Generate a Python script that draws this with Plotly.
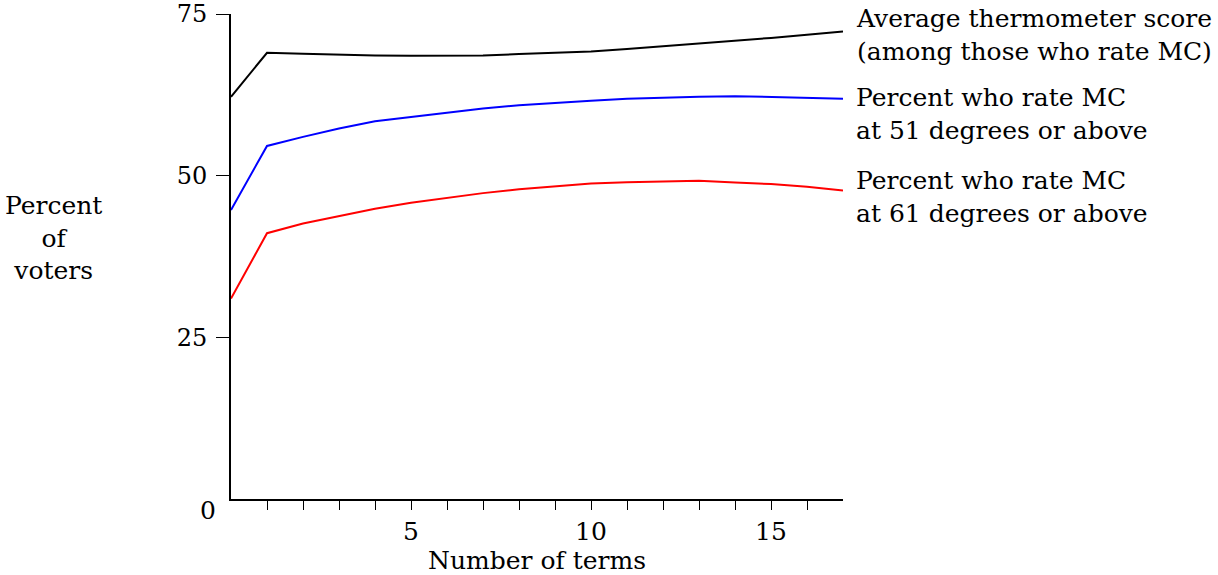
import plotly.graph_objects as go

terms = list(range(0, 18))
avg_score = [62.2, 69.0, 68.85, 68.7, 68.6, 68.55, 68.55, 68.6, 68.8, 69.0,
             69.2, 69.6, 70.0, 70.4, 70.9, 71.3, 71.8, 72.3]
pct_51 = [44.7, 54.6, 56.0, 57.3, 58.4, 59.1, 59.8, 60.4, 60.9, 61.3,
          61.6, 61.9, 62.1, 62.2, 62.3, 62.2, 62.1, 61.9]
pct_61 = [31.0, 41.1, 42.6, 43.8, 44.9, 45.8, 46.6, 47.3, 47.9, 48.4,
          48.8, 49.0, 49.15, 49.2, 48.95, 48.7, 48.3, 47.7]

labels = ["Average thermometer score<br>(among those who rate MC)",
          "Percent who rate MC<br>at 51 degrees or above",
          "Percent who rate MC<br>at 61 degrees or above"]
label_y = [71.7, 59.5, 46.7]

x_tickvals = list(range(1, 17))
x_ticktext = [str(v) if v % 5 == 0 else "" for v in x_tickvals]
y_tickvals = [25, 50, 75]

FONT = "DejaVu Serif"
FS = 25

fig = go.Figure()
for ys, col in [(avg_score, "#000000"), (pct_51, "#0000ff"), (pct_61, "#ff0000")]:
    fig.add_trace(go.Scatter(x=terms, y=ys, mode="lines",
                             line=dict(color=col, width=2), showlegend=False,
                             cliponaxis=False))

for txt, yv in zip(labels, label_y):
    fig.add_annotation(text=txt, xref="paper", x=1, xanchor="left", xshift=11,
                       yref="y", y=yv, yanchor="middle", showarrow=False,
                       align="left", font=dict(size=FS, color="black", family=FONT))

fig.add_annotation(text="Percent<br>of<br>voters", xref="paper", x=-0.29,
                   xanchor="center", yref="y", y=40.3, yanchor="middle",
                   showarrow=False, align="center",
                   font=dict(size=FS, color="black", family=FONT))
fig.add_annotation(text="0", xref="x", x=0, xanchor="right", xshift=-13,
                   yref="y", y=0, yanchor="middle", yshift=-11, showarrow=False,
                   font=dict(size=FS, color="black", family=FONT))

fig.update_layout(
    width=1218, height=575,
    margin=dict(l=231, r=375, t=14, b=76),
    paper_bgcolor="white", plot_bgcolor="white",
    font=dict(family=FONT, size=FS, color="black"),
    xaxis=dict(range=[0, 17], tickvals=x_tickvals, ticktext=x_ticktext,
               ticks="outside", ticklen=9, tickwidth=1, tickcolor="black",
               showline=True, linecolor="black", linewidth=2, automargin=False,
               showgrid=False, zeroline=False,
               title=dict(text="Number of terms", standoff=9,
                          font=dict(size=FS, family=FONT))),
    yaxis=dict(range=[0, 75], tickvals=y_tickvals, ticklabeloverflow="allow",
               ticks="outside", ticklen=13, tickwidth=1, tickcolor="black",
               tickfont=dict(size=24, family=FONT),
               showline=True, linecolor="black", linewidth=2, automargin=False,
               showgrid=False, zeroline=False, ticklabelstandoff=4),
)

fig.write_html("out.html", config={"displayModeBar": False},
               post_script="document.body.style.margin='0';document.body.style.overflow='hidden';")
